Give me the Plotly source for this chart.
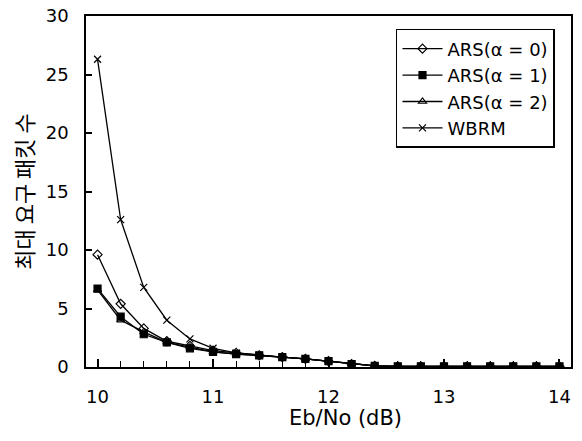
import plotly.graph_objects as go

# Eb/No (dB) sample points
ebno = [10.0, 10.2, 10.4, 10.6, 10.8, 11.0, 11.2, 11.4, 11.6, 11.8, 12.0,
        12.2, 12.4, 12.6, 12.8, 13.0, 13.2, 13.4, 13.6, 13.8, 14.0]

# maximum required packets per scheme
ars_a0 = [9.6, 5.4, 3.3, 2.2, 1.8, 1.4, 1.2, 1.0, 0.85, 0.7, 0.5,
          0.25, 0.1, 0.05, 0.05, 0.05, 0.05, 0.05, 0.05, 0.05, 0.05]
ars_a1 = [6.7, 4.3, 2.8, 2.1, 1.6, 1.3, 1.1, 1.0, 0.85, 0.7, 0.5,
          0.25, 0.1, 0.05, 0.05, 0.05, 0.05, 0.05, 0.05, 0.05, 0.05]
ars_a2 = [6.6, 4.0, 3.0, 2.1, 1.7, 1.3, 1.1, 1.0, 0.85, 0.7, 0.5,
          0.25, 0.1, 0.05, 0.05, 0.05, 0.05, 0.05, 0.05, 0.05, 0.05]
wbrm = [26.3, 12.6, 6.8, 4.0, 2.4, 1.6, 1.2, 1.0, 0.85, 0.7, 0.5,
        0.25, 0.1, 0.05, 0.05, 0.05, 0.05, 0.05, 0.05, 0.05, 0.05]

series = [
    ("ARS(α = 0)", ars_a0, "diamond-open", 7),
    ("ARS(α = 1)", ars_a1, "square", 7),
    ("ARS(α = 2)", ars_a2, "triangle-up-open", 7),
    ("WBRM", wbrm, "x-thin-open", 7),
]

fig = go.Figure()
for name, vals, sym, size in series:
    fig.add_trace(go.Scatter(
        x=ebno, y=vals, mode="lines+markers", name=name,
        line=dict(color="black", width=1.3),
        marker=dict(symbol=sym, size=size, color="black",
                    line=dict(color="black", width=1.2)),
    ))

font = "DejaVu Sans, sans-serif"
fig.update_layout(
    width=582, height=441,
    margin=dict(l=86, r=11, t=16, b=74),
    paper_bgcolor="white", plot_bgcolor="white",
    font=dict(family=font, color="black", size=18),
    showlegend=True,
    legend=dict(x=0.967, y=0.963, xanchor="right", yanchor="top",
                bordercolor="black", borderwidth=1.5, bgcolor="white",
                font=dict(size=18), tracegroupgap=0, itemwidth=40),
    xaxis=dict(
        range=[9.9, 14.1], tickmode="array", tickvals=[10, 11, 12, 13, 14],
        ticks="inside", ticklen=8, tickwidth=1.5, tickcolor="black",
        minor=dict(tickvals=[10 + 0.2 * i for i in range(21)],
                   ticks="inside", ticklen=6, tickwidth=1.2, tickcolor="black"),
        showline=True, linecolor="black", linewidth=1.5, mirror=True,
        showgrid=False, zeroline=False, automargin=False,
        ticklabelstandoff=13, ticklabeloverflow="allow",
    ),
    yaxis=dict(
        range=[0, 30], tickvals=[0, 5, 10, 15, 20, 25, 30],
        ticks="inside", ticklen=6, tickwidth=1.5, tickcolor="black",
        showline=True, linecolor="black", linewidth=1.5, mirror=True,
        showgrid=False, zeroline=False, automargin=False,
        ticklabelstandoff=12, ticklabeloverflow="allow",
        title=dict(text="최대 요구 패킷 수",
                   font=dict(size=22, family="Noto Sans CJK KR"), standoff=6),
    ),
)

# x axis title sits a little right of centre in the original
fig.add_annotation(text="Eb/No (dB)", xref="paper", yref="paper",
                   x=0.535, y=-0.145, xanchor="center", yanchor="middle",
                   showarrow=False, font=dict(size=21))

# drop the browser's default body margin so the figure fills the window
fig.write_html("out.html", config={"displayModeBar": False},
               post_script="document.body.style.margin='0';")
